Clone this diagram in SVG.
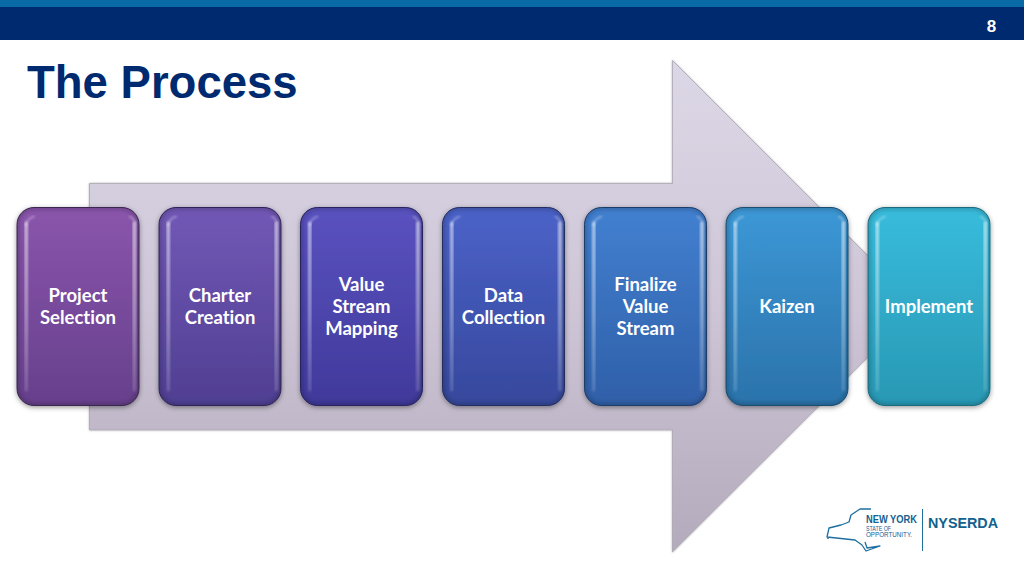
<svg xmlns="http://www.w3.org/2000/svg" width="1024" height="576" viewBox="0 0 1024 576">
<style>
.lbl{font-family:Lato,"Open Sans",sans-serif;font-weight:700;font-size:18.5px;fill:#fff;text-anchor:middle;font-variant-ligatures:none}
.box{stroke-width:1;filter:url(#sh)}
.rim{fill:none;stroke:#000;stroke-opacity:.2;stroke-width:5;filter:url(#bl2)}
.hl{fill:url(#hg);filter:url(#bl)}
.hc{fill:none;stroke:#fff;stroke-opacity:.3;stroke-width:2;stroke-linecap:round;filter:url(#bl)}
.hb{fill:none;stroke:#fff;stroke-opacity:.1;stroke-width:3;stroke-linecap:round;filter:url(#bl)}
.lg{font-family:"Liberation Sans",Arial,sans-serif;fill:#12618f}
</style>
<defs>
<linearGradient id="arr" x1="0" y1="0" x2="0" y2="1"><stop offset="0" stop-color="#dcd7e6"/><stop offset=".5" stop-color="#cec6d7"/><stop offset="1" stop-color="#b3abbb"/></linearGradient>
<linearGradient id="hg" x1="0" y1="0" x2="0" y2="1"><stop offset="0" stop-color="#fff" stop-opacity=".55"/><stop offset=".55" stop-color="#fff" stop-opacity=".38"/><stop offset="1" stop-color="#fff" stop-opacity=".15"/></linearGradient>
<filter id="sh" x="-10%" y="-10%" width="120%" height="120%"><feDropShadow dx="0" dy="1.500" stdDeviation="2.500" flood-color="#000" flood-opacity=".4"/></filter>
<filter id="ash" x="-5%" y="-5%" width="110%" height="110%"><feDropShadow dx="0" dy="0" stdDeviation="1" flood-color="#000" flood-opacity=".3"/></filter>
<filter id="bl"><feGaussianBlur stdDeviation=".8"/></filter>
<filter id="bl2"><feGaussianBlur stdDeviation="2"/></filter>
<clipPath id="cp"><rect width="122" height="198" rx="17"/></clipPath>
<linearGradient id="g1" x1="0" y1="0" x2="0" y2="1"><stop offset="0" stop-color="#8a55ac"/><stop offset="1" stop-color="#66408c"/></linearGradient>
<linearGradient id="g2" x1="0" y1="0" x2="0" y2="1"><stop offset="0" stop-color="#7258b6"/><stop offset="1" stop-color="#4f3f92"/></linearGradient>
<linearGradient id="g3" x1="0" y1="0" x2="0" y2="1"><stop offset="0" stop-color="#5a52c0"/><stop offset="1" stop-color="#40399a"/></linearGradient>
<linearGradient id="g4" x1="0" y1="0" x2="0" y2="1"><stop offset="0" stop-color="#4b62c8"/><stop offset="1" stop-color="#36489c"/></linearGradient>
<linearGradient id="g5" x1="0" y1="0" x2="0" y2="1"><stop offset="0" stop-color="#4280d0"/><stop offset="1" stop-color="#2f5fa8"/></linearGradient>
<linearGradient id="g6" x1="0" y1="0" x2="0" y2="1"><stop offset="0" stop-color="#3c98d6"/><stop offset="1" stop-color="#2b72aa"/></linearGradient>
<linearGradient id="g7" x1="0" y1="0" x2="0" y2="1"><stop offset="0" stop-color="#38bcdc"/><stop offset="1" stop-color="#2898b4"/></linearGradient>
<g id="gloss">
<g clip-path="url(#cp)"><rect class="rim" width="122" height="198" rx="17"/></g>
<rect class="hl" x="7.500" y="14" width="3.500" height="170" rx="1.700"/>
<rect class="hl" x="115.500" y="14" width="4" height="170" rx="2"/>
<path class="hc" d="M9 18Q10 11 17 9M113 9Q117 11 118 15"/>
<path class="hb" d="M16 191H106"/>
</g>
</defs>
<rect width="1024" height="576" fill="#fff"/>
<rect id="band-top" width="1024" height="8" fill="#0a6aa6"/>
<rect id="band" y="7" width="1024" height="33" fill="#002a70"/>
<text x="991.500" y="32" font-family="'Liberation Sans',Arial,sans-serif" font-size="17" font-weight="700" fill="#fff" text-anchor="middle">8</text>
<text x="27" y="98" font-family="'Liberation Sans',Arial,sans-serif" font-size="45.500" font-weight="700" fill="#002a70">The Process</text>
<path id="arrow" d="M89.500 183.500H672.500V60.500L918.500 306.500L672.500 552V430H89.500Z" fill="url(#arr)" stroke="#a9a4b0" stroke-width=".8" filter="url(#ash)"/>
<g id="connectors"/>
<g id="n1">
<rect class="box" x="17" y="207.500" width="122" height="198" rx="17" fill="url(#g1)" stroke="#3f2a55"/>
<use href="#gloss" x="17" y="207.500"/>
<text class="lbl" x="78" y="301.500">Project</text><text class="lbl" x="78" y="323.500">Selection</text>
</g>
<g id="n2">
<rect class="box" x="159" y="207.500" width="122" height="198" rx="17" fill="url(#g2)" stroke="#33285e"/>
<use href="#gloss" x="159" y="207.500"/>
<text class="lbl" x="220" y="301.500">Charter</text><text class="lbl" x="220" y="323.500">Creation</text>
</g>
<g id="n3">
<rect class="box" x="300.500" y="207.500" width="122" height="198" rx="17" fill="url(#g3)" stroke="#2a2566"/>
<use href="#gloss" x="300.500" y="207.500"/>
<text class="lbl" x="361.500" y="290.500">Value</text><text class="lbl" x="361.500" y="312.500">Stream</text><text class="lbl" x="361.500" y="334.500">Mapping</text>
</g>
<g id="n4">
<rect class="box" x="442.500" y="207.500" width="122" height="198" rx="17" fill="url(#g4)" stroke="#253268"/>
<use href="#gloss" x="442.500" y="207.500"/>
<text class="lbl" x="503.500" y="301.500">Data</text><text class="lbl" x="503.500" y="323.500">Collection</text>
</g>
<g id="n5">
<rect class="box" x="584.500" y="207.500" width="122" height="198" rx="17" fill="url(#g5)" stroke="#1f4272"/>
<use href="#gloss" x="584.500" y="207.500"/>
<text class="lbl" x="645.500" y="290.500">Finalize</text><text class="lbl" x="645.500" y="312.500">Value</text><text class="lbl" x="645.500" y="334.500">Stream</text>
</g>
<g id="n6">
<rect class="box" x="726" y="207.500" width="122" height="198" rx="17" fill="url(#g6)" stroke="#1d5278"/>
<use href="#gloss" x="726" y="207.500"/>
<text class="lbl" x="787" y="312.500">Kaizen</text>
</g>
<g id="n7">
<rect class="box" x="868" y="207.500" width="122" height="198" rx="17" fill="url(#g7)" stroke="#1f7488"/>
<use href="#gloss" x="868" y="207.500"/>
<text class="lbl" x="929" y="312.500">Implement</text>
</g>
<g id="logo">
<path d="M871 509H860L851 515L849 522L841 525L829 528L827 537L855 540L862 545L866 551L880 546L867 548L865 542M827 538H829" fill="none" stroke="#1f6f9f" stroke-width="1.300" stroke-linejoin="round"/>
<text class="lg" x="866" y="523" font-size="10" font-weight="700" textLength="51" lengthAdjust="spacingAndGlyphs">NEW YORK</text>
<text class="lg" x="866" y="530.500" font-size="6.500" textLength="25" lengthAdjust="spacingAndGlyphs">STATE OF</text>
<text class="lg" x="866" y="537" font-size="6.500" textLength="46" lengthAdjust="spacingAndGlyphs">OPPORTUNITY.</text>
<path d="M922.500 509V551" stroke="#1f6f9f" stroke-width="1"/>
<text class="lg" x="928" y="527.500" font-size="15" font-weight="700" textLength="70" lengthAdjust="spacingAndGlyphs">NYSERDA</text>
</g>
</svg>
